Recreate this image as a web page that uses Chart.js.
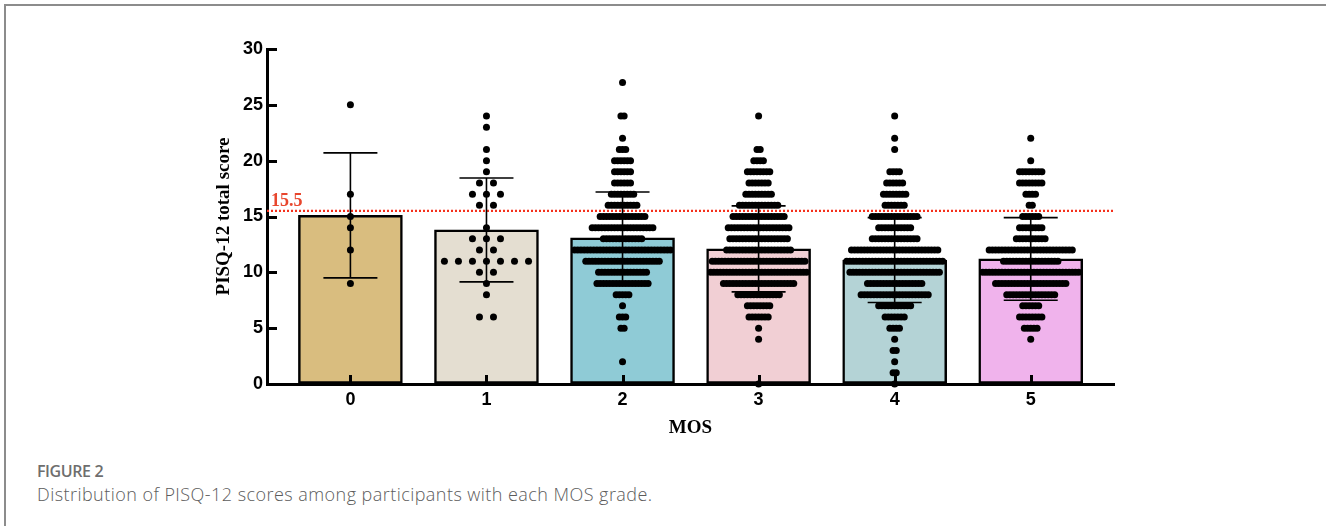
<!DOCTYPE html>
<html>
<head>
<meta charset="utf-8">
<title>PISQ-12 scores by MOS grade</title>
<script src="https://cdn.jsdelivr.net/npm/chart.js@4.4.0/dist/chart.umd.min.js"></script>
<style>
  html, body { margin: 0; padding: 0; background: #fff; }
  body { width: 1326px; height: 526px; position: relative; overflow: hidden; }
  #frame {
    position: absolute; left: 4px; top: 4px; width: 1340px; height: 540px;
    border-top: 2px solid #8c8c8c; border-left: 2px solid #8c8c8c;
  }
  #chart { position: absolute; left: 0; top: 0; }
  .fig-num {
    position: absolute; left: 37px; top: 460px;
    font-family: "Open Sans", sans-serif; font-weight: 600; font-size: 16px;
    letter-spacing: -0.4px; color: #6e6e6e; white-space: nowrap;
  }
  .fig-cap {
    position: absolute; left: 37px; top: 482px;
    font-family: "Open Sans", sans-serif; font-weight: 300; font-size: 18px;
    letter-spacing: 0.45px; color: #5c5c5c; white-space: nowrap;
  }
</style>
</head>
<body>
<div id="frame"></div>
<canvas id="chart" width="1326" height="445"></canvas>
<div class="fig-num">FIGURE 2</div>
<div class="fig-cap">Distribution of PISQ-12 scores among participants with each MOS grade.</div>

<script>
    // --- Data ---
    const categories = ['0', '1', '2', '3', '4', '5'];
    const barMeans = [15.1, 13.8, 13.1, 12.1, 11.1, 11.2];
    const barSD = [5.6, 4.65, 4.1, 3.85, 3.8, 3.7];
    const cutoff = 15.5;
    const yTicks = [0, 5, 10, 15, 20, 25, 30];

    // [PISQ-12 score, number of participants] per MOS grade
    const mos0Scores = [[25, 1], [17, 1], [15, 1], [14, 1], [12, 1], [9, 1]];
    const mos1Scores = [[24, 1], [23, 1], [21, 1], [20, 1], [19, 1], [18, 2], [17, 3], [16, 2],
        [14, 1], [13, 3], [12, 2], [11, 7], [10, 2], [9, 1], [8, 1], [6, 2]];
    const mos2Scores = [[27, 1], [24, 2], [22, 1], [21, 3], [20, 6], [19, 6], [18, 6], [17, 8],
        [16, 10], [15, 15], [14, 20], [13, 13], [12, 31], [11, 24], [10, 16], [9, 17], [8, 5],
        [7, 1], [6, 3], [5, 2], [2, 1]];
    const mos3Scores = [[24, 1], [21, 2], [20, 4], [19, 8], [18, 7], [17, 9], [16, 13], [15, 17],
        [14, 20], [13, 19], [12, 21], [11, 30], [10, 31], [9, 23], [8, 14], [7, 8], [6, 7],
        [5, 1], [4, 1], [0, 1]];
    const mos4Scores = [[24, 1], [22, 1], [21, 1], [19, 4], [18, 6], [17, 8], [16, 7], [15, 15],
        [14, 11], [13, 15], [12, 28], [11, 31], [10, 29], [9, 18], [8, 22], [7, 11], [6, 7],
        [5, 4], [4, 1], [3, 2], [2, 1], [1, 2], [0, 1]];
    const mos5Scores = [[22, 1], [20, 1], [19, 8], [18, 8], [17, 4], [16, 2], [15, 6], [14, 8],
        [13, 10], [12, 27], [11, 18], [10, 31], [9, 23], [8, 16], [7, 6], [6, 8], [5, 5], [4, 1]];

    const groupScores = [mos0Scores, mos1Scores, mos2Scores, mos3Scores, mos4Scores, mos5Scores];

    // --- Styling ---
    const BAR_COLORS = ['#d9bd7f', '#e4ded1', '#8fcbd6', '#f1cfd4', '#b4d3d6', '#f0b3ec'];
    const DOT_GAP = [0.103, 0.103, 0.0235, 0.0235, 0.0235, 0.0235]; // x-units between neighbouring dots
    const X_MIN = -0.613;
    const X_MAX = 5.612;
    const CAP_HALF = 27;

    // spread tied scores sideways (column scatter)
    const dotPoints = [];
    groupScores.forEach((rows, g) => {
        rows.forEach(([score, n]) => {
            for (let k = 0; k < n; k++) {
                dotPoints.push({ x: g + (k - (n - 1) / 2) * DOT_GAP[g], y: score });
            }
        });
    });

    const axisFont = { family: 'Liberation Sans', size: 18, weight: 'bold' };
    const titleFont = { family: 'Liberation Serif', size: 19, weight: 'bold' };

    const errorBarPlugin = {
        id: 'errorBars',
        afterDatasetsDraw(chart) {
            const { ctx, chartArea, scales: { x, y } } = chart;
            ctx.save();

            // mean +/- SD
            ctx.strokeStyle = '#000';
            ctx.lineWidth = 1.6;
            barMeans.forEach((m, i) => {
                const cx = x.getPixelForValue(i);
                const top = y.getPixelForValue(m + barSD[i]);
                const bot = y.getPixelForValue(m - barSD[i]);
                ctx.beginPath();
                ctx.moveTo(cx, top); ctx.lineTo(cx, bot);
                ctx.moveTo(cx - CAP_HALF, top); ctx.lineTo(cx + CAP_HALF, top);
                ctx.moveTo(cx - CAP_HALF, bot); ctx.lineTo(cx + CAP_HALF, bot);
                ctx.stroke();
            });

            // inward tick marks
            ctx.lineWidth = 3;
            ctx.beginPath();
            yTicks.forEach(v => {
                const py = Math.round(y.getPixelForValue(v)) + 0.5;
                ctx.moveTo(chartArea.left, py);
                ctx.lineTo(chartArea.left + 10, py);
            });
            categories.forEach((c, i) => {
                const px = Math.round(x.getPixelForValue(i)) + 0.5;
                ctx.moveTo(px, chartArea.bottom);
                ctx.lineTo(px, chartArea.bottom - 9);
            });
            ctx.stroke();

            // cut-off label
            ctx.fillStyle = '#e8462d';
            ctx.font = 'bold 18px "Liberation Serif"';
            ctx.textAlign = 'left';
            ctx.textBaseline = 'alphabetic';
            ctx.fillText(String(cutoff), chartArea.left + 4, y.getPixelForValue(cutoff) - 5);
            ctx.restore();
        }
    };

    const ctx = document.getElementById('chart').getContext('2d');
    new Chart(ctx, {
        type: 'bar',
        data: {
            datasets: [
                {
                    type: 'scatter',
                    data: dotPoints,
                    order: 1,
                    clip: false,
                    pointRadius: 3.5,
                    pointHoverRadius: 3.5,
                    backgroundColor: '#000',
                    borderWidth: 0
                },
                {
                    type: 'line',
                    data: [{ x: X_MIN, y: cutoff }, { x: X_MAX, y: cutoff }],
                    order: 2,
                    borderColor: '#f5301c',
                    borderWidth: 2.2,
                    borderDash: [2, 2],
                    pointRadius: 0,
                    fill: false
                },
                {
                    type: 'bar',
                    data: barMeans.map((m, i) => ({ x: i, y: m })),
                    order: 3,
                    backgroundColor: BAR_COLORS,
                    borderColor: '#000',
                    borderWidth: 2.5,
                    borderSkipped: false,
                    barThickness: 104
                }
            ]
        },
        options: {
            responsive: false,
            animation: false,
            events: [],
            layout: { padding: { left: 200, right: 212, top: 49, bottom: 0 } },
            plugins: {
                legend: { display: false },
                tooltip: { enabled: false }
            },
            scales: {
                x: {
                    type: 'linear',
                    min: X_MIN,
                    max: X_MAX,
                    offset: false,
                    afterBuildTicks: s => { s.ticks = categories.map((c, i) => ({ value: i })); },
                    afterFit: s => { s.height = 61; },
                    grid: { drawOnChartArea: false, drawTicks: false, offset: false },
                    border: { display: true, width: 3, color: '#000' },
                    ticks: {
                        color: '#000',
                        font: axisFont,
                        padding: 5,
                        maxRotation: 0,
                        callback: v => categories[v]
                    },
                    title: {
                        display: true,
                        text: 'MOS',
                        color: '#000',
                        font: titleFont,
                        padding: { top: 0, bottom: 6 }
                    }
                },
                y: {
                    min: 0,
                    max: 30,
                    afterBuildTicks: s => { s.ticks = yTicks.map(v => ({ value: v })); },
                    afterFit: s => { s.width = 67; },
                    grid: { drawOnChartArea: false, drawTicks: false },
                    border: { display: true, width: 3, color: '#000' },
                    ticks: { color: '#000', font: axisFont, padding: 4 },
                    title: {
                        display: true,
                        text: 'PISQ-12 total score',
                        color: '#000',
                        font: titleFont,
                        padding: { top: 13, bottom: 0 }
                    }
                }
            }
        },
        plugins: [errorBarPlugin]
    });
</script>
</body>
</html>
